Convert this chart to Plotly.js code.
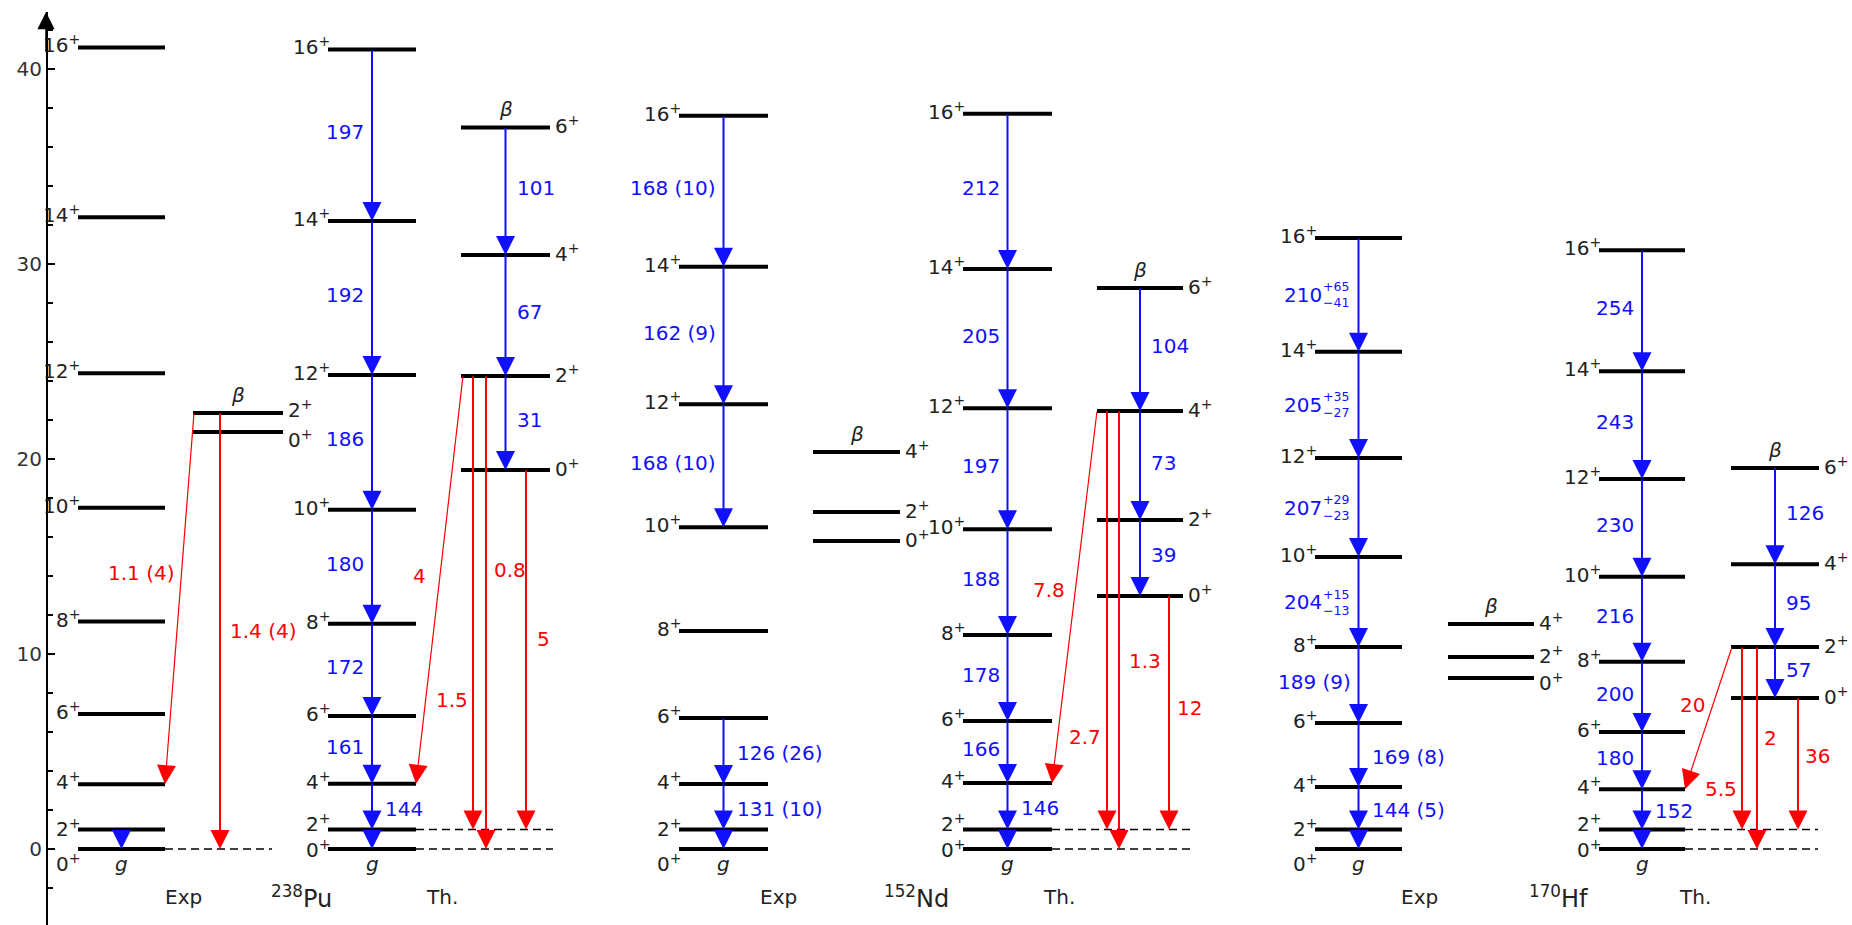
<!DOCTYPE html>
<html><head><meta charset="utf-8">
<script src="https://cdn.plot.ly/plotly-3.0.1.min.js"></script>
<style>html,body{margin:0;padding:0;background:#fff}#chart{width:1852px;height:925px}</style>
</head><body><div id="chart"></div>
<script>
// ================= DATA =================
const groundSpins = [0, 2, 4, 6, 8, 10, 12, 14, 16];
const betaSpins = [0, 2, 4, 6];

// ground-band level energies (in units of E(2+))
const puExpGround = [0, 1, 3.32, 6.92, 11.66, 17.5, 24.4, 32.4, 41.1];
const puThGround  = [0, 1, 3.35, 6.82, 11.55, 17.4, 24.3, 32.2, 41.0];
const ndExpGround = [0, 1, 3.33, 6.72, 11.18, 16.5, 22.8, 29.86, 37.6];
const ndThGround  = [0, 1, 3.38, 6.56, 10.97, 16.4, 22.6, 29.74, 37.7];
const hfExpGround = [0, 1, 3.18, 6.46, 10.36, 14.97, 20.05, 25.5, 31.33];
const hfThGround  = [0, 1, 3.07, 6.0, 9.6, 13.96, 18.97, 24.5, 30.7];

// beta-band level energies
const puExpBeta = [21.38, 22.36];
const puThBeta  = [19.44, 24.26, 30.46, 37.0];
const ndExpBeta = [15.8, 17.28, 20.36];
const ndThBeta  = [12.97, 16.87, 22.46, 28.77];
const hfExpBeta = [8.77, 9.85, 11.54];
const hfThBeta  = [7.74, 10.36, 14.6, 19.54];

// in-band B(E2) labels, index i = transition spin[i+1] -> spin[i]; null = no arrow, '' = arrow without label
const puExpGroundBE2 = ['', null, null, null, null, null, null, null];
const puThGroundBE2  = ['', '144', '161', '172', '180', '186', '192', '197'];
const ndExpGroundBE2 = ['', '131 (10)', '126 (26)', null, null, '168 (10)', '162 (9)', '168 (10)'];
const ndThGroundBE2  = ['', '146', '166', '178', '188', '197', '205', '212'];
const hfExpGroundBE2 = ['', '144 (5)', '169 (8)', '189 (9)', '204', '207', '205', '210'];
const hfExpGroundErrUp = [null, null, null, null, '+15', '+29', '+35', '+65'];
const hfExpGroundErrDn = [null, null, null, null, '\u221213', '\u221223', '\u221227', '\u221241'];
const hfThGroundBE2  = ['', '152', '180', '200', '216', '230', '243', '254'];

const puThBetaBE2 = ['31', '67', '101'];
const ndThBetaBE2 = ['39', '73', '104'];
const hfThBetaBE2 = ['57', '95', '126'];

// inter-band transitions: beta spin -> ground spin, with B(E2) label
const puExpInterFrom = [2, 2];
const puExpInterTo = [4, 0];
const puExpInterLabel = ['1.1 (4)', '1.4 (4)'];
const puThInterFrom = [2, 2, 2, 0];
const puThInterTo = [4, 2, 0, 2];
const puThInterLabel = ['4', '1.5', '0.8', '5'];
const ndThInterFrom = [4, 4, 4, 0];
const ndThInterTo = [4, 2, 0, 2];
const ndThInterLabel = ['7.8', '2.7', '1.3', '12'];
const hfThInterFrom = [2, 2, 2, 0];
const hfThInterTo = [4, 2, 0, 2];
const hfThInterLabel = ['20', '5.5', '2', '36'];

// ================= LAYOUT / STYLE =================
const BLUE = '#1010ff', RED = '#ff0000', FONT = 'DejaVu Sans, Liberation Sans, sans-serif';
const HEAD = 3.8; // arrow head scale in px units

const pos = {
  puExp: {gL:78, gR:165, bL:193, bR:283, dashR:272, dashLv:[0], exp:true, rightUpTo:-1, tag:'Exp', tagX:183,
          bShift:[-7, 4],
          inter:[{x0:194,x1:165,t:0.43,side:'left',off:5},{x0:220,x1:220,t:0.5,side:'right',off:8}]},
  puTh:  {gL:328, gR:416, bL:461, bR:550, dashR:553, dashLv:[0,1], rightUpTo:1, tag:'Th.', tagX:442,
          inter:[{x0:463,x1:416,t:0.49,side:'left',off:12},{x0:473,x1:473,t:0.715,side:'left',off:3},
                 {x0:486,x1:486,t:0.41,side:'right',off:6},{x0:526,x1:526,t:0.47,side:'right',off:9}]},
  ndExp: {gL:679, gR:768, bL:813, bR:900, exp:true, rightUpTo:2, tag:'Exp', tagX:778, inter:[]},
  ndTh:  {gL:963, gR:1052, bL:1097, bR:1183, dashR:1190, dashLv:[0,1], rightUpTo:1, tag:'Th.', tagX:1059,
          inter:[{x0:1097,x1:1052,t:0.48,side:'left',off:8},{x0:1107,x1:1107,t:0.78,side:'left',off:4},
                 {x0:1119,x1:1119,t:0.57,side:'right',off:8},{x0:1169,x1:1169,t:0.48,side:'right',off:6}]},
  hfExp: {gL:1315, gR:1402, bL:1448, bR:1534, exp:true, rightUpTo:2, tag:'Exp', tagX:1419, bShift:[-4, 2, 2], inter:[]},
  hfTh:  {gL:1599, gR:1685, bL:1731, bR:1819, dashR:1818, dashLv:[0,1], rightUpTo:1, tag:'Th.', tagX:1695,
          inter:[{x0:1732,x1:1685,t:0.41,side:'left',off:6},{x0:1742,x1:1742,t:0.78,side:'left',off:3},
                 {x0:1757,x1:1757,t:0.45,side:'right',off:5},{x0:1798,x1:1798,t:0.44,side:'right',off:5}]}
};

const panels = [
  {P:pos.puExp, g:puExpGround, b:puExpBeta, gBE2:puExpGroundBE2, bBE2:null, iFrom:puExpInterFrom, iTo:puExpInterTo, iLab:puExpInterLabel},
  {P:pos.puTh,  g:puThGround,  b:puThBeta,  gBE2:puThGroundBE2,  bBE2:puThBetaBE2, iFrom:puThInterFrom, iTo:puThInterTo, iLab:puThInterLabel},
  {P:pos.ndExp, g:ndExpGround, b:ndExpBeta, gBE2:ndExpGroundBE2, bBE2:null, iFrom:[], iTo:[], iLab:[]},
  {P:pos.ndTh,  g:ndThGround,  b:ndThBeta,  gBE2:ndThGroundBE2,  bBE2:ndThBetaBE2, iFrom:ndThInterFrom, iTo:ndThInterTo, iLab:ndThInterLabel},
  {P:pos.hfExp, g:hfExpGround, b:hfExpBeta, gBE2:hfExpGroundBE2, errUp:hfExpGroundErrUp, errDn:hfExpGroundErrDn, bBE2:null, iFrom:[], iTo:[], iLab:[]},
  {P:pos.hfTh,  g:hfThGround,  b:hfThBeta,  gBE2:hfThGroundBE2,  bBE2:hfThBetaBE2, iFrom:hfThInterFrom, iTo:hfThInterTo, iLab:hfThInterLabel}
];
const nuclei = [{text:'<sup>238</sup>Pu', x:301}, {text:'<sup>152</sup>Nd', x:916}, {text:'<sup>170</sup>Hf', x:1558}];

const traces = [], ann = [];

function levels(xl, xr, es) {
  const x = [], y = [];
  es.forEach(e => { x.push(xl, xr, null); y.push(e, e, null); });
  traces.push({type:'scatter', mode:'lines', x, y, line:{color:'#000', width:4}, hoverinfo:'skip', showlegend:false});
}
function arrow(x0, y0, x1, y1, color, w) {
  ann.push({x:x1, y:y1, ax:x0, ay:y0, xref:'x', yref:'y', axref:'x', ayref:'y', text:'', showarrow:true,
            arrowhead:2, arrowsize:HEAD / w, arrowwidth:w, arrowcolor:color, standoff:0, borderpad:0, font:{size:1}});
}
function label(x, y, text, opts) {
  ann.push(Object.assign({x, y, xref:'x', yref:'y', text, showarrow:false, xanchor:'center', yanchor:'middle',
            font:{family:FONT, size:20, color:'#222'}}, opts || {}));
}

panels.forEach(p => {
  const P = p.P, g = p.g, b = p.b;
  const gC = (P.gL + P.gR) / 2, bC = (P.bL + P.bR) / 2;
  if (P.dashLv) P.dashLv.forEach(i => traces.push({type:'scatter', mode:'lines', x:[P.gR, P.dashR], y:[g[i], g[i]],
      line:{color:'#000', width:1.5, dash:'8px,5px'}, hoverinfo:'skip', showlegend:false}));
  levels(P.gL, P.gR, g);
  levels(P.bL, P.bR, b);
  g.forEach((e, i) => {
    let ys = 3;
    if (i === 0) ys = P.exp ? -14 : 0;
    if (i === 1) ys = P.exp ? 2 : 7;
    label(P.gL + 4, e, groundSpins[i] + '<sup>+</sup>', {xanchor:'right', yshift:ys});
  });
  b.forEach((e, i) => label(P.bR + 3, e, betaSpins[i] + '<sup>+</sup>',
      {xanchor:'left', yshift:P.bShift ? P.bShift[i] : 2}));
  label(bC, b[b.length - 1], '<i>\u03b2</i>', {yanchor:'bottom', yshift:4});
  label(gC, 0, '<i>g</i>', {yanchor:'top', yshift:-1});
  label(P.tagX, 0, P.tag, {yshift:-48});

  // ground band in-band transitions
  p.gBE2.forEach((lab, i) => {
    if (lab === null) return;
    arrow(gC, g[i + 1], gC, g[i], BLUE, 2);
    if (!lab) return;
    const mid = (g[i] + g[i + 1]) / 2;
    const f = {family:FONT, size:20, color:BLUE};
    if (i <= P.rightUpTo) {
      label(gC, mid, lab, {xanchor:'left', xshift:11, yshift:-2, font:f});
    } else if (p.errUp && p.errUp[i]) {
      label(gC, mid, p.errUp[i] + '<br>' + p.errDn[i], {xanchor:'right', xshift:-8, font:{family:FONT, size:12.5, color:BLUE}});
      label(gC, mid, lab, {xanchor:'right', xshift:-35, font:f});
    } else {
      label(gC, mid, lab, {xanchor:'right', xshift:-6, yshift:3, font:f});
    }
  });
  // beta band in-band transitions
  if (p.bBE2) p.bBE2.forEach((lab, i) => {
    arrow(bC, b[i + 1], bC, b[i], BLUE, 2);
    label(bC, (b[i] + b[i + 1]) / 2, lab, {xanchor:'left', xshift:9, yshift:3, font:{family:FONT, size:20, color:BLUE}});
  });
  // inter-band transitions
  p.iFrom.forEach((jf, k) => {
    const G = P.inter[k];
    const y0 = b[jf / 2], y1 = g[p.iTo[k] / 2];
    const diag = G.x0 !== G.x1;
    arrow(G.x0, y0, G.x1, y1, RED, diag ? 1.2 : 2);
    const lx = G.x0 + G.t * (G.x1 - G.x0), ly = y0 + G.t * (y1 - y0);
    label(lx, ly, p.iLab[k], {xanchor: G.side === 'left' ? 'right' : 'left', xshift: G.side === 'left' ? -G.off : G.off,
          font:{family:FONT, size:20, color:RED}});
  });
});
nuclei.forEach(n => label(n.x, 0, n.text, {yshift:-48, font:{family:FONT, size:24, color:'#222'}}));

// y-axis arrow head
ann.push({xref:'paper', yref:'paper', x:46 / 1852, y:1, ax:0, ay:40, text:'', showarrow:true, arrowhead:2,
          arrowsize:2.3, arrowwidth:1.5, arrowcolor:'#000', standoff:0, borderpad:0, font:{size:1}});

const layout = {
  width:1852, height:925, margin:{l:0, r:0, t:12, b:0},
  paper_bgcolor:'#fff', plot_bgcolor:'#fff', showlegend:false,
  xaxis:{range:[0, 1852], visible:false, fixedrange:true},
  yaxis:{range:[-3.897, 42.92], anchor:'free', position:46 / 1852, side:'left', showline:true, linecolor:'#000', linewidth:1.5,
         ticks:'inside', ticklen:7, tickwidth:1.5, tickcolor:'#000', tick0:0, dtick:10, showgrid:false, zeroline:false,
         tickfont:{family:FONT, size:20, color:'#333'},
         minor:{tick0:0, dtick:2, ticks:'inside', ticklen:5, tickwidth:1.2, tickcolor:'#000', showgrid:false},
         fixedrange:true},
  annotations:ann
};
Plotly.newPlot('chart', traces, layout, {displayModeBar:false, staticPlot:true});
</script></body></html>
